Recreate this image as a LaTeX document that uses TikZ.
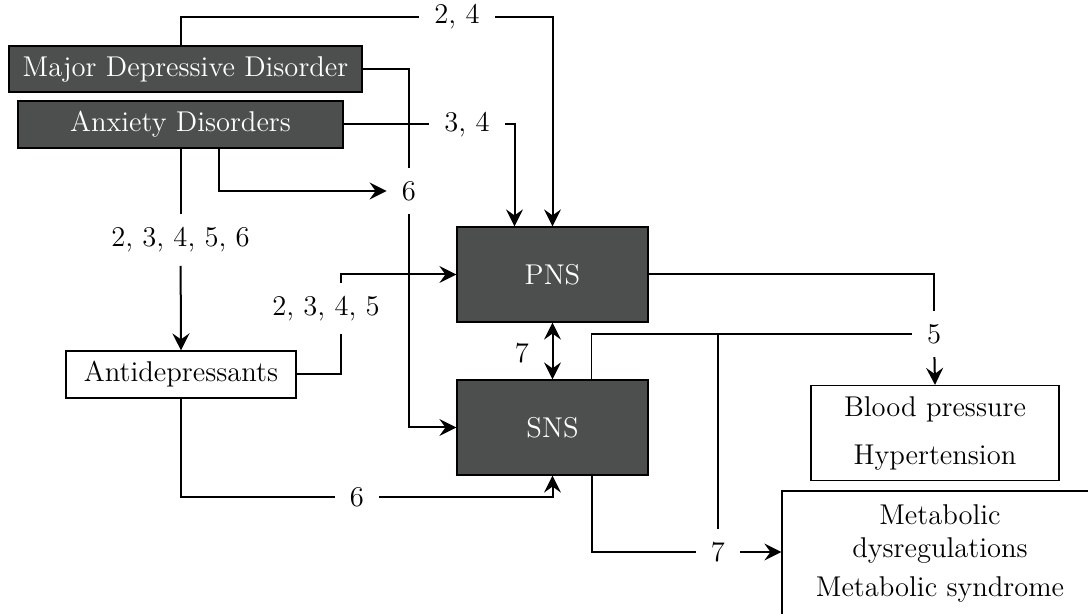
\documentclass[tikz,border=0pt]{standalone}
\usetikzlibrary{arrows.meta}
\definecolor{boxgray}{RGB}{77,79,79}

\begin{document}
\begin{tikzpicture}[x=0.5pt, y=-0.5pt,
  every node/.style={font=\fontsize{14.3}{16.5}\selectfont},
  dark/.style={draw, line width=0.6pt, fill=boxgray, text=white, inner sep=0pt},
  light/.style={draw, line width=0.6pt, fill=white, align=center, inner sep=0pt},
  lbl/.style={inner xsep=7.5pt, inner ysep=6.5pt},
  link/.style={line width=1pt},
  thinlink/.style={line width=0.6pt},
  >={Stealth[length=8.5pt, width=8.5pt, inset=3pt]}]
\useasboundingbox (0,0) rectangle (1088,614);
\clip (0,0) rectangle (1088,614);

\node[dark, minimum width=176.5pt, minimum height=23pt] (mdd) at (185.5,69) {Major Depressive Disorder};
\node[dark, minimum width=162.5pt, minimum height=23.5pt] (anx) at (180.5,124.5) {Anxiety Disorders};
\node[dark, minimum width=95.5pt, minimum height=47.5pt] (pns) at (552.5,274.5) {PNS};
\node[dark, minimum width=95.5pt, minimum height=47.5pt] (sns) at (552.5,427.5) {SNS};
\node[light, minimum width=115pt, minimum height=23.5pt] (anti) at (181,374.5) {Antidepressants};
\node[light, minimum width=124pt, minimum height=47.5pt] (bp) at (935,433) {Blood pressure\\[7.5pt]Hypertension};
\node[light, minimum width=158pt, minimum height=62.5pt] (met) at (940,553.5) {Metabolic\\dysregulations\\[3pt]Metabolic syndrome};

\node[lbl] (l24) at (457,17) {2, 4};
\node[lbl] (l34) at (467,124.5) {3, 4};
\node[lbl] (l6a) at (409,191) {6};
\node[lbl] (l23456) at (180.5,240) {2, 3, 4, 5, 6};
\node[lbl] (l2345) at (326,308.5) {2, 3, 4, 5};
\node[lbl] (l6b) at (357,497) {6};
\node (l7a) at (522,353) {7};
\node[lbl] (l5) at (934,334) {5};
\node[lbl] (l7b) at (718,552) {7};

\draw[link] (anti.north |- mdd.north) |- (l24);
\draw[link, ->] (l24) -| (pns.north);
\draw[link] (mdd.east) -| (l6a);
\draw[link, ->] (l6a) |- (sns.west);
\draw[link] (anx.east) -- (l34);
\draw[link, ->] (l34) -| ([xshift=-19pt]pns.north);
\draw[link] (anx.south) -- (l23456);
\draw[link, ->] (l23456) -- (anti.north);
\draw[link, ->] ([xshift=19pt]anx.south) |- (l6a);
\draw[link] (anti.east) -| ([xshift=7.5pt]l2345.south);
\draw[link, ->] ([xshift=7.5pt]l2345.north) |- (pns.west);
\draw[link] (anti.south) |- (l6b);
\draw[link, ->] (l6b) -| (sns.south);
\draw[link, <->] (pns) -- (sns);
\draw[link] (pns.east) -| (l5);
\draw[link, ->] (l5) -- (bp.north);
\draw[thinlink] ([xshift=19.5pt]sns.north) |- (l5);
\draw[thinlink] (l7b |- l5) -- (l7b);
\draw[link] ([xshift=19.5pt]sns.south) |- (l7b);
\draw[link, ->] (l7b) -- (l7b -| met.west);
\end{tikzpicture}
\end{document}
